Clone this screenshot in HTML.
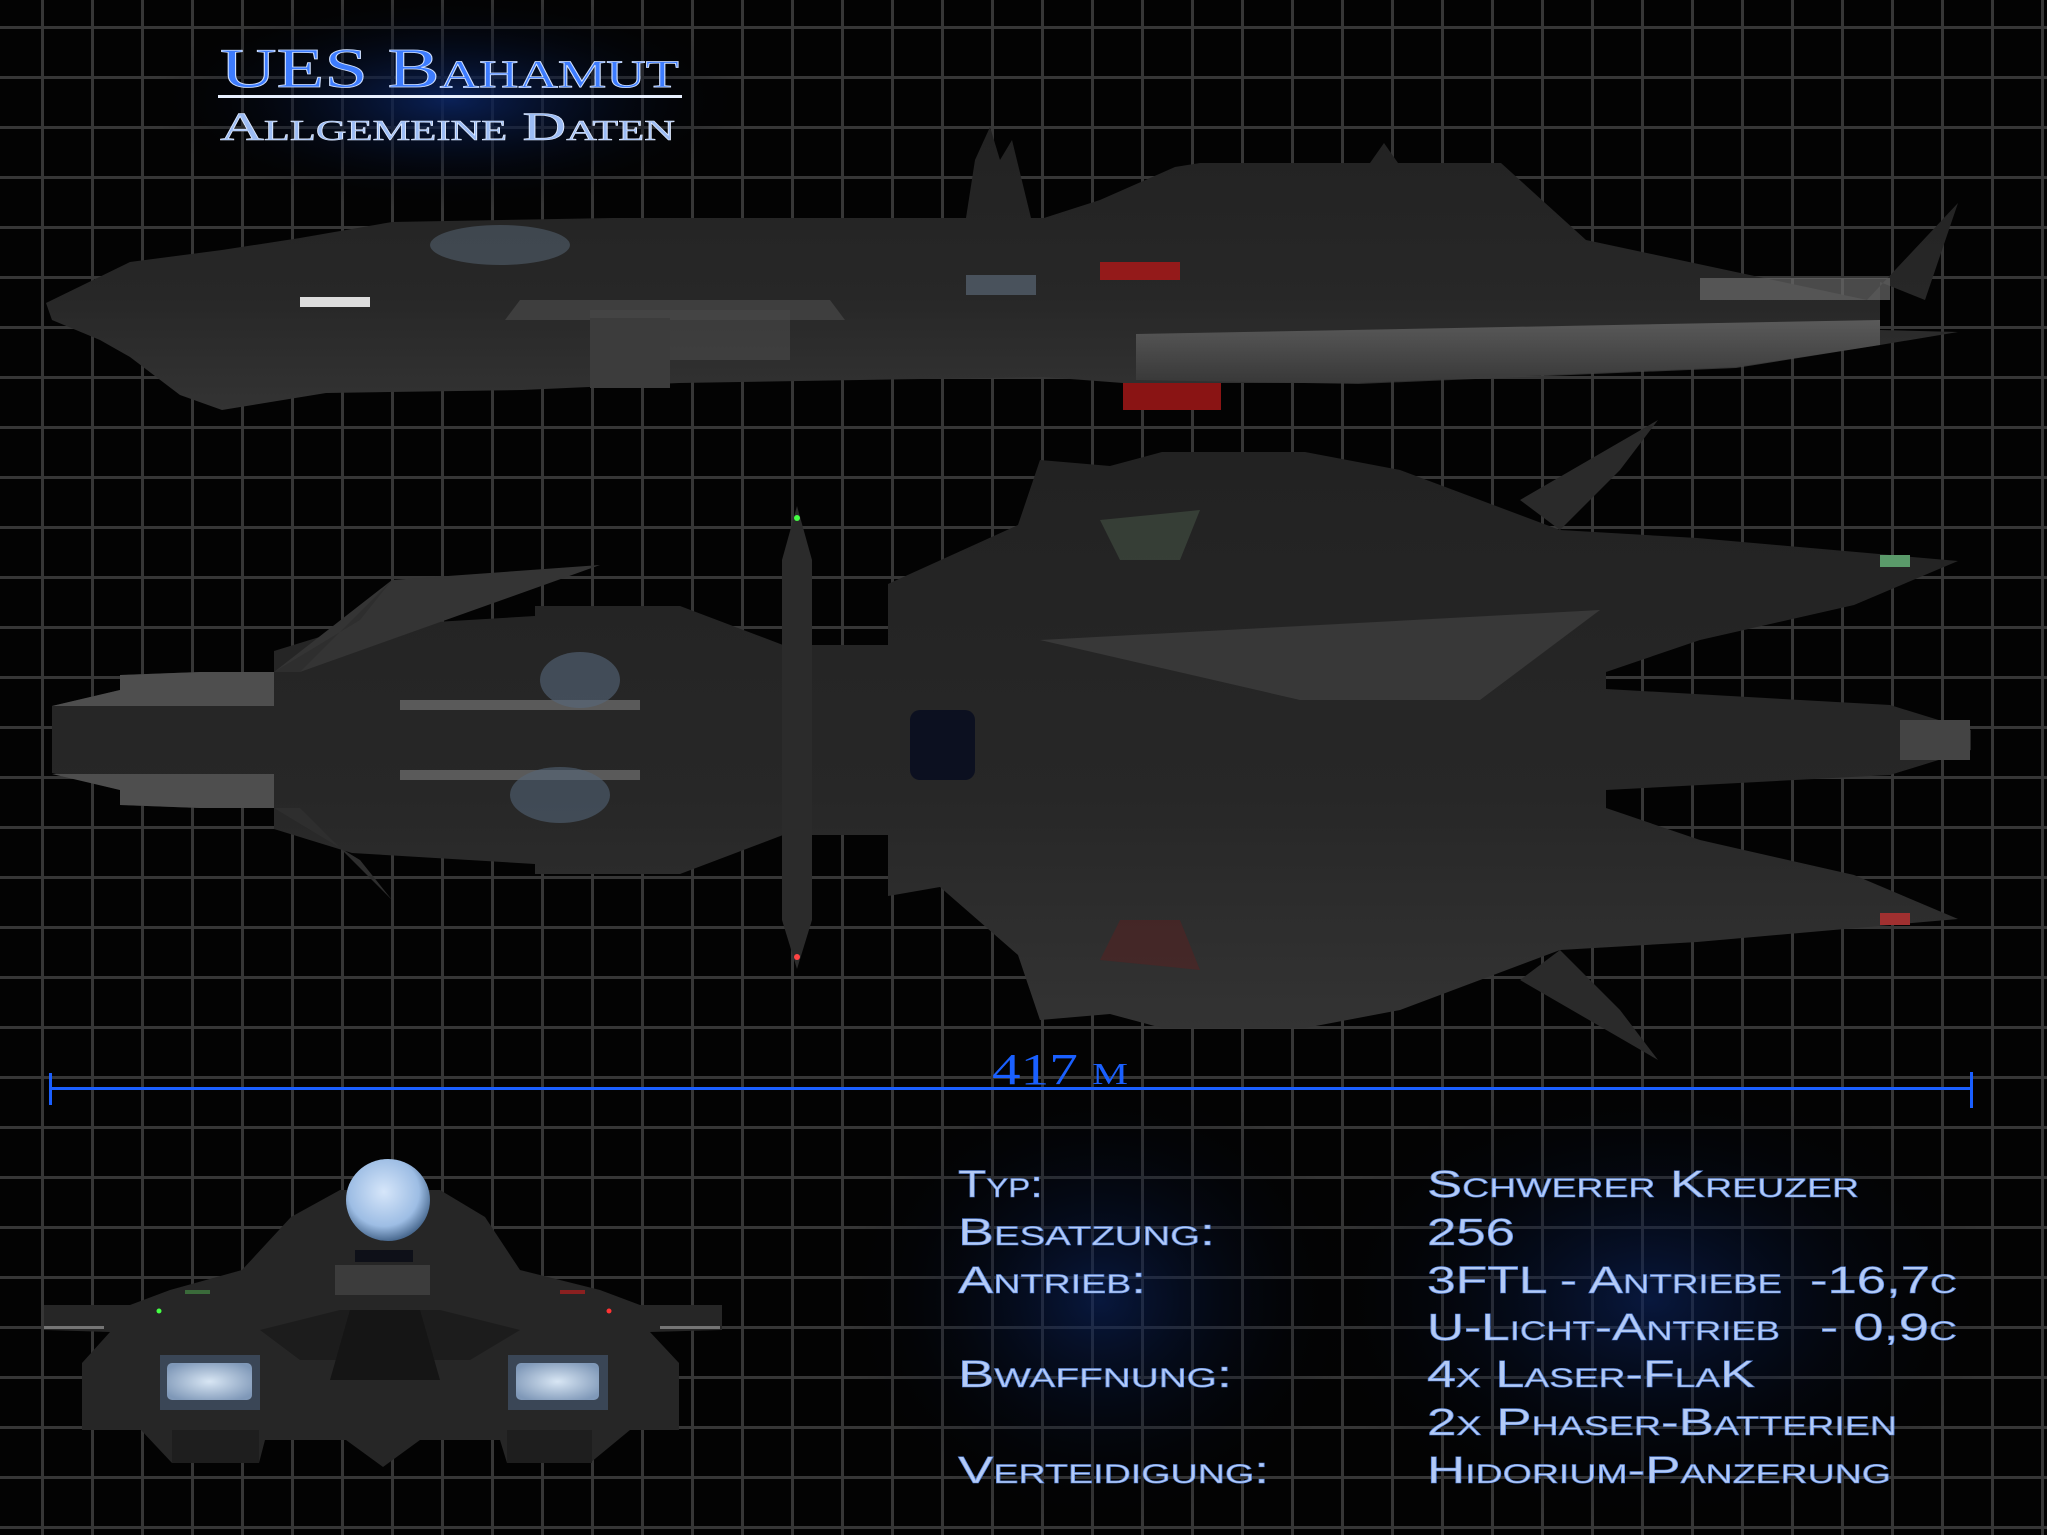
<!DOCTYPE html>
<html><head><meta charset="utf-8"><style>
html,body{margin:0;padding:0;background:#000;}
svg{display:block;}
.sp{font-family:"Liberation Sans",sans-serif;font-variant:small-caps;font-size:38px;fill:#b4cbf6;stroke:#5a88e0;stroke-width:0.6px;}
</style></head><body>
<svg width="2047" height="1535" viewBox="0 0 2047 1535" xmlns="http://www.w3.org/2000/svg">
<defs>
<pattern id="g" x="41" y="26" width="50" height="50" patternUnits="userSpaceOnUse">
<rect x="0" y="0" width="3" height="50" fill="#363636"/>
<rect x="0" y="0" width="50" height="3" fill="#363636"/>
</pattern>
<radialGradient id="glow" cx="50%" cy="50%" r="50%">
<stop offset="0" stop-color="#0b2460" stop-opacity="0.9"/>
<stop offset="1" stop-color="#000" stop-opacity="0"/>
</radialGradient>
<linearGradient id="hull" x1="0" y1="0" x2="0" y2="1">
<stop offset="0" stop-color="#222"/><stop offset="0.6" stop-color="#272727"/><stop offset="1" stop-color="#333"/>
</linearGradient>
<linearGradient id="band" x1="0" y1="0" x2="0" y2="1">
<stop offset="0" stop-color="#6a6a6a"/><stop offset="1" stop-color="#3a3a3a"/>
</linearGradient>
<radialGradient id="sph" cx="45%" cy="40%" r="60%">
<stop offset="0" stop-color="#d6e6fa"/><stop offset="0.7" stop-color="#9dbde4"/><stop offset="1" stop-color="#4a6a90"/>
</radialGradient>
<radialGradient id="eng" cx="50%" cy="50%" r="60%">
<stop offset="0" stop-color="#d8e6f4"/><stop offset="1" stop-color="#7f98b8"/>
</radialGradient>
</defs>
<rect width="2047" height="1535" fill="#030303"/>
<rect width="2047" height="1535" fill="url(#g)"/>

<ellipse cx="450" cy="100" rx="300" ry="110" fill="url(#glow)"/>
<ellipse cx="1100" cy="1300" rx="260" ry="230" fill="url(#glow)" opacity="0.7"/>
<ellipse cx="1650" cy="1300" rx="350" ry="230" fill="url(#glow)" opacity="0.7"/>

<text x="220" y="87" font-family="Liberation Serif,serif" font-size="56" style="font-variant:small-caps" fill="#3d7cff" stroke="#cfe0ff" stroke-width="0.8" textLength="459" lengthAdjust="spacingAndGlyphs">UES Bahamut</text>
<rect x="218" y="95" width="464" height="3" fill="#e8f0ff"/>
<text x="220" y="140" font-family="Liberation Serif,serif" font-size="40" style="font-variant:small-caps" fill="#9cbcf4" stroke="#e0ebff" stroke-width="0.6" textLength="455" lengthAdjust="spacingAndGlyphs">Allgemeine Daten</text>

<g>
<polygon fill="url(#hull)" points="46,303 130,262 222,250 300,238 392,222 613,218 966,218 975,160 990,127 1000,160 1012,140 1031,218 1044,218 1100,200 1175,167 1200,163 1370,163 1384,143 1398,163 1501,163 1586,240 1867,300 1958,203 1925,300 1880,282 1880,330 1958,332 1880,345 1736,367 1358,383 1221,383 1221,410 1123,410 1123,383 1044,377 679,383 522,390 326,393 222,410 180,395 130,357 100,340 52,320"/>
<polygon fill="url(#band)" opacity="0.75" points="1136,334 1880,320 1880,345 1736,368 1358,384 1136,380"/>
<polygon fill="#3e3e3e" points="520,300 830,300 845,320 505,320"/>
<rect x="590" y="310" width="200" height="50" fill="#4a4a4a" opacity="0.6"/>
<rect x="1700" y="278" width="190" height="22" fill="#6a6a6a" opacity="0.7"/>
<rect x="1123" y="383" width="98" height="27" fill="#8a1414"/>
<rect x="1100" y="262" width="80" height="18" fill="#b01818" opacity="0.8"/>
<rect x="300" y="297" width="70" height="10" fill="#ddd"/>
<ellipse cx="500" cy="245" rx="70" ry="20" fill="#5a6a7a" opacity="0.5"/>
<rect x="966" y="275" width="70" height="20" fill="#607080" opacity="0.6"/>
<rect x="590" y="318" width="80" height="70" fill="#3c3c3c"/>
</g>

<g>
<polygon fill="url(#hull)" points="52,723 52,706 120,690 120,675 200,672 274,672 274,651 352,627 535,616 535,606 680,606 783,645 888,645 888,584 1018,525 1040,460 1110,466 1162,452 1305,452 1400,470 1560,530 1697,538 1958,561 1854,605 1700,640 1606,672 1606,689 1890,705 1971,730 1971,750 1890,775 1606,790 1606,808 1700,840 1854,875 1958,919 1697,942 1560,950 1400,1010 1305,1028 1162,1028 1110,1014 1040,1020 1018,955 940,887 888,896 888,835 783,835 680,874 535,874 535,864 352,853 274,829 274,808 200,808 120,805 120,790 52,773"/>
<polygon fill="#343434" points="600,565 392,580 274,672 300,672"/>
<polygon fill="#2e2e2e" points="392,580 360,620 274,672 300,672"/>
<polygon fill="#2e2e2e" points="392,900 360,860 274,808 300,808"/>
<polygon fill="#2a2a2a" points="1658,420 1620,470 1560,530 1520,500"/>
<polygon fill="#2a2a2a" points="1658,1060 1620,1010 1560,950 1520,980"/>
<polygon fill="#2b2b2b" points="797,506 782,560 782,920 797,969 812,920 812,560"/>
<polygon fill="#4e4e4e" points="52,706 274,706 274,672 200,672 120,675 120,690"/>
<polygon fill="#4e4e4e" points="52,774 274,774 274,808 200,808 120,805 120,790"/>
<rect x="400" y="700" width="240" height="10" fill="#5a5a5a"/>
<rect x="400" y="770" width="240" height="10" fill="#5a5a5a"/>
<ellipse cx="580" cy="680" rx="40" ry="28" fill="#56687c" opacity="0.6"/>
<ellipse cx="560" cy="795" rx="50" ry="28" fill="#56687c" opacity="0.55"/>
<rect x="910" y="710" width="65" height="70" rx="10" fill="#0c1020"/>
<polygon fill="#383838" points="1040,640 1600,610 1480,700 1300,700"/>
<rect x="1900" y="720" width="70" height="40" fill="#444"/>
<rect x="1880" y="555" width="30" height="12" fill="#5a9a6a"/>
<rect x="1880" y="913" width="30" height="12" fill="#a03030"/>
<circle cx="797" cy="518" r="3" fill="#4f4"/>
<circle cx="797" cy="957" r="3" fill="#f44"/>
<polygon fill="#4a5a4a" opacity="0.5" points="1100,520 1200,510 1180,560 1120,560"/>
<polygon fill="#5a2020" opacity="0.5" points="1100,960 1200,970 1180,920 1120,920"/>
</g>

<rect x="50" y="1087" width="1923" height="3" fill="#1a5fff"/>
<rect x="49" y="1073" width="3" height="32" fill="#1a5fff"/>
<rect x="1970" y="1072" width="3" height="36" fill="#1a5fff"/>
<text x="992" y="1084" font-family="Liberation Serif,serif" font-size="44" style="font-variant:small-caps" fill="#1a60ff" textLength="136" lengthAdjust="spacingAndGlyphs">417 m</text>

<g>
<polygon fill="#262626" points="242,1270 291,1217 340,1190 440,1190 485,1217 520,1270 600,1290 640,1305 722,1305 722,1330 650,1332 679,1363 679,1430 630,1430 590,1463 507,1463 500,1440 420,1440 383,1467 346,1440 265,1440 259,1463 172,1463 141,1430 82,1430 82,1363 110,1332 44,1330 44,1305 130,1305 170,1290"/>
<polygon fill="#1c1c1c" points="260,1330 340,1310 440,1310 520,1330 470,1360 300,1360"/>
<rect x="335" y="1265" width="95" height="30" fill="#3c3c3c"/>
<polygon fill="#151515" points="350,1310 420,1310 440,1380 330,1380"/>
<rect x="160" y="1355" width="100" height="55" fill="#3a4656"/>
<rect x="508" y="1355" width="100" height="55" fill="#3a4656"/>
<rect x="167" y="1363" width="85" height="37" rx="5" fill="url(#eng)"/>
<rect x="516" y="1363" width="83" height="37" rx="5" fill="url(#eng)"/>
<ellipse cx="388" cy="1200" rx="42" ry="41" fill="url(#sph)"/>
<rect x="355" y="1250" width="58" height="12" fill="#0e1018"/>
<rect x="172" y="1430" width="87" height="33" fill="#1e1e1e"/>
<rect x="507" y="1430" width="85" height="33" fill="#1e1e1e"/>
<rect x="44" y="1326" width="60" height="3" fill="#aaa" opacity="0.6"/>
<rect x="660" y="1326" width="60" height="3" fill="#aaa" opacity="0.6"/>
<circle cx="159" cy="1311" r="2.5" fill="#4f4"/>
<circle cx="609" cy="1311" r="2.5" fill="#f33"/>
<rect x="185" y="1290" width="25" height="4" fill="#3a6a3a"/>
<rect x="560" y="1290" width="25" height="4" fill="#8a2020"/>
</g>

<g class="sp">
<text x="958" y="1197" textLength="85" lengthAdjust="spacingAndGlyphs">Typ:</text>
<text x="958" y="1245" textLength="257" lengthAdjust="spacingAndGlyphs">Besatzung:</text>
<text x="958" y="1293" textLength="188" lengthAdjust="spacingAndGlyphs">Antrieb:</text>
<text x="958" y="1387" textLength="274" lengthAdjust="spacingAndGlyphs">Bwaffnung:</text>
<text x="958" y="1483" textLength="311" lengthAdjust="spacingAndGlyphs">Verteidigung:</text>
<text x="1427" y="1197" textLength="432" lengthAdjust="spacingAndGlyphs">Schwerer Kreuzer</text>
<text x="1427" y="1245" textLength="88" lengthAdjust="spacingAndGlyphs">256</text>
<text x="1427" y="1293" textLength="355" lengthAdjust="spacingAndGlyphs">3FTL - Antriebe</text>
<text x="1810" y="1293" textLength="147" lengthAdjust="spacingAndGlyphs">-16,7c</text>
<text x="1427" y="1340" textLength="353" lengthAdjust="spacingAndGlyphs">U-Licht-Antrieb</text>
<text x="1820" y="1340" textLength="137" lengthAdjust="spacingAndGlyphs">-  0,9c</text>
<text x="1427" y="1387" textLength="328" lengthAdjust="spacingAndGlyphs">4x Laser-FlaK</text>
<text x="1427" y="1435" textLength="470" lengthAdjust="spacingAndGlyphs">2x Phaser-Batterien</text>
<text x="1427" y="1483" textLength="464" lengthAdjust="spacingAndGlyphs">Hidorium-Panzerung</text>
</g>
</svg>
</body></html>
